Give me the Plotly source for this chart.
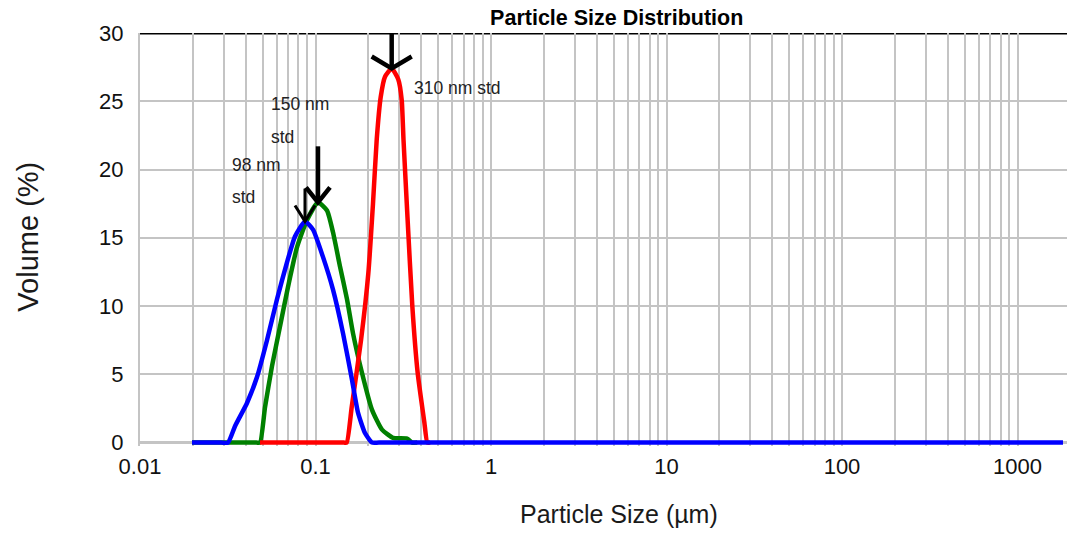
import math
import plotly.graph_objects as go

# Particle size (µm) and volume (%) for each latex standard
size_98 = [0.01978, 0.0290, 0.03172, 0.03478, 0.04072, 0.04642, 0.05292, 0.06034,
           0.06880, 0.07640, 0.08712, 0.09678, 0.1103, 0.1258, 0.1435, 0.1614,
           0.1746, 0.1914, 0.2099, 0.2300, 1816]
vol_98 = [0, 0, 0, 1.2, 2.9, 4.8, 7.5, 10.5,
          13.2, 15.1, 16.2, 15.6, 13.6, 11.2, 8.0, 4.6,
          2.2, 0.7, 0, 0, 0]

size_150 = [0.01978, 0.0460, 0.04829, 0.05157, 0.05651, 0.06275, 0.06971, 0.07843,
            0.08944, 0.1033, 0.1163, 0.1258, 0.1379, 0.1512, 0.1636, 0.1841,
            0.2099, 0.2393, 0.2764, 0.3322, 0.3548, 0.3800]
vol_150 = [0, 0, 0, 2.6, 5.6, 8.5, 11.4, 14.3,
           16.3, 17.6, 17.0, 15.4, 12.9, 10.5, 8.0, 5.1,
           2.4, 0.95, 0.35, 0.3, 0, 0]

size_310 = [0.04829, 0.1450, 0.1506, 0.1608, 0.1817, 0.2000, 0.2126, 0.2233,
            0.2352, 0.2489, 0.2717, 0.2963, 0.3099, 0.3172, 0.3343, 0.3562,
            0.3822, 0.4169, 0.4335, 0.4500]
vol_310 = [0, 0, 0, 2.6, 7.5, 12.4, 17.5, 22.2,
           25.3, 26.8, 27.4, 26.6, 25.1, 22.2, 16.5, 10.0,
           5.1, 1.5, 0, 0]

decade_values = [0.01, 0.1, 1, 10, 100, 1000]
decade_labels = ["0.01", "0.1", "1", "10", "100", "1000"]

X_MAX_LOG = 3.282
Y_MIN = -0.25
SANS = "Liberation Sans, Arial, sans-serif"

# every 1..9 x 10^k position gets a gridline, only decades get a label
tickvals, ticktext = [], []
for dv, lab in zip(decade_values, decade_labels):
    for m in range(1, 10):
        v = dv * m
        if math.log10(v) <= X_MAX_LOG:
            tickvals.append(v)
            ticktext.append(lab if m == 1 else "")

fig = go.Figure()

for xs, ys, col in [(size_150, vol_150, "#008000"),
                    (size_310, vol_310, "#ff0000"),
                    (size_98, vol_98, "#0000ff")]:
    fig.add_trace(go.Scatter(x=xs, y=ys, mode="lines",
                             line=dict(color=col, width=4.5, shape="spline",
                                       smoothing=0.5),
                             hoverinfo="skip", showlegend=False))

# hand-drawn style arrows pointing at each peak
DECADE_PX = 175.5
PX_PER_UNIT = 410 / 30


def arrow(xs, ys, top, half_px, rise_px, width):
    i = max(range(len(ys)), key=lambda k: ys[k])
    px, py = xs[i], ys[i]
    f = 10 ** (half_px / DECADE_PX)
    up = rise_px / PX_PER_UNIT
    fig.add_trace(go.Scatter(
        x=[px, px, None, px / f, px, px * f],
        y=[top, py, None, py + up, py, py + up],
        mode="lines", line=dict(color="black", width=width),
        hoverinfo="skip", showlegend=False))


arrow(size_310, vol_310, 30, 20, 12, 4.5)
arrow(size_150, vol_150, 21.7, 12, 15, 4.5)
arrow(size_98, vol_98, 18.6, 10, 16, 3)

notes = [("310 nm std", 0.355, 26.0),
         ("150 nm", 0.0543, 24.8),
         ("std", 0.0543, 22.4),
         ("98 nm", 0.0326, 20.3),
         ("std", 0.0326, 18.0)]
for txt, xv, yv in notes:
    fig.add_annotation(x=math.log10(xv), y=yv, xref="x", yref="y", text=txt,
                       showarrow=False, xanchor="left", yanchor="middle",
                       font=dict(family=SANS, size=17.5, color="#222222"))

# axis titles
fig.add_annotation(text="Particle Size (µm)", xref="paper", yref="paper",
                   x=0.5167, y=-0.164, showarrow=False, xanchor="center",
                   yanchor="middle", font=dict(family=SANS, size=25, color="#1a1a1a"))
fig.add_annotation(text="Volume (%)", xref="paper", yref="paper",
                   x=-0.1208, y=0.507, showarrow=False, textangle=-90,
                   xanchor="center", yanchor="middle",
                   font=dict(family=SANS, size=29, color="#1a1a1a"))

# black frame line along the top, grey base line at zero
fig.add_shape(type="line", xref="paper", yref="y", x0=0, x1=1, y0=30, y1=30,
              line=dict(color="black", width=3), layer="below")
fig.add_shape(type="line", xref="paper", yref="y", x0=0, x1=1, y0=0, y1=0,
              line=dict(color="#c4c4c4", width=3), layer="below")

plot_h = 410 * (30 - Y_MIN) / 30
fig.update_layout(
    width=1067, height=535,
    margin=dict(l=140, r=0, t=33, b=int(round(535 - 33 - plot_h))),
    paper_bgcolor="white", plot_bgcolor="white",
    title=dict(text="<b>Particle Size Distribution</b>", x=0.578, xanchor="center",
               y=1 - 17 / 535, yanchor="middle",
               font=dict(family=SANS, size=21.5, color="black")),
    xaxis=dict(type="log", range=[-2, X_MAX_LOG], tickmode="array",
               tickvals=tickvals, ticktext=ticktext,
               showgrid=True, gridcolor="#c4c4c4", gridwidth=2,
               showline=False, ticks="", zeroline=False, ticklabelstandoff=5,
               tickfont=dict(family=SANS, size=22, color="#111111")),
    yaxis=dict(range=[Y_MIN, 30], tickmode="array",
               tickvals=[0, 5, 10, 15, 20, 25, 30],
               showgrid=True, gridcolor="#c4c4c4", gridwidth=2,
               showline=True, linecolor="#c4c4c4", linewidth=2,
               ticks="", zeroline=False, ticklabelstandoff=10,
               tickfont=dict(family=SANS, size=22, color="#111111")),
)

fig.write_html("out.html")
